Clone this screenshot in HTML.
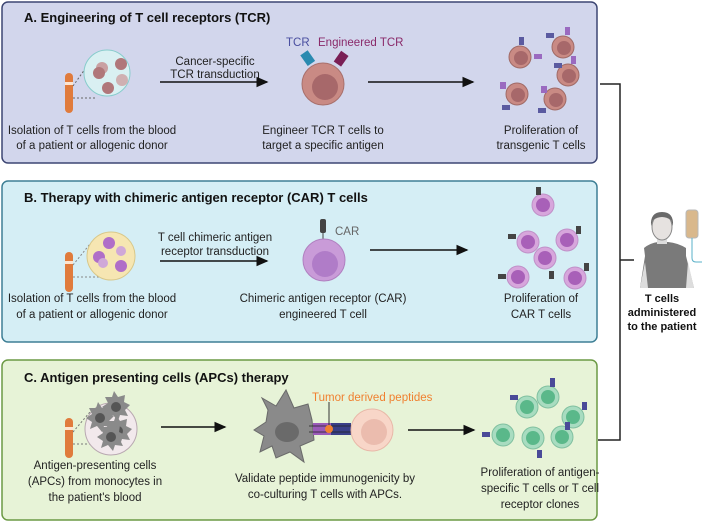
<!DOCTYPE html>
<html><head><style>
html,body{margin:0;padding:0;background:#fff;}
svg{display:block;font-family:"Liberation Sans",sans-serif;}
.t{font-weight:bold;font-size:13px;fill:#111;}
.c{font-size:11.5px;fill:#222;text-anchor:middle;}
</style></head><body>
<svg width="708" height="523" viewBox="0 0 708 523">
<defs>
<g id="tube"><rect x="-4" y="0" width="8" height="40" rx="4" fill="#e07b3c"/><rect x="-4" y="9" width="8" height="3" fill="#fde4cf"/></g>
<marker id="ar" markerWidth="8" markerHeight="8" refX="7" refY="4" orient="auto"><path d="M0,0.5 L8,4 L0,7.5z" fill="#111"/></marker>
<g id="apc"><path d="M-4,-10 L-2,-16 L2,-10 L9,-12 L8,-5 L14,-2 L9,3 L12,9 L4,8 L2,14 L-3,8 L-10,11 L-8,4 L-14,0 L-8,-4 L-11,-10z" fill="#8a8a8a"/><circle r="5" fill="#555"/></g>
</defs>
<!-- Panel A -->
<rect x="2" y="2" width="595" height="161" rx="6" fill="#d2d6ec" stroke="#3d4673" stroke-width="1.5"/>
<text class="t" x="24" y="22">A. Engineering of T cell receptors (TCR)</text>
<use href="#tube" x="69" y="73"/>
<line x1="73" y1="86" x2="90" y2="62" stroke="#666" stroke-dasharray="2,2"/><line x1="73" y1="98" x2="96" y2="98" stroke="#666" stroke-dasharray="2,2"/>
<circle cx="107" cy="73" r="23" fill="#d9f0f2" stroke="#8cc"/>
<circle cx="102" cy="68" r="6" fill="#c9a0a2"/><circle cx="99" cy="73" r="6" fill="#b0777a"/><circle cx="121" cy="64" r="6" fill="#b0777a"/><circle cx="122" cy="80" r="6" fill="#cfb0b2"/><circle cx="108" cy="88" r="6" fill="#b0777a"/>
<text class="c" x="92" y="134">Isolation of T cells from the blood</text>
<text class="c" x="92" y="149">of a patient or allogenic donor</text>
<line x1="160" y1="82" x2="267" y2="82" stroke="#111" stroke-width="1.5" marker-end="url(#ar)"/>
<text class="c" x="215" y="65">Cancer-specific</text><text class="c" x="215" y="78">TCR transduction</text>
<text x="286" y="46" font-size="11.5" fill="#4a4fa0">TCR</text><text x="318" y="46" font-size="11.5" fill="#8a2a6a">Engineered TCR</text>
<rect x="303" y="52" width="9" height="13" fill="#2a8ab0" transform="rotate(-35 307 58)"/><rect x="337" y="52" width="9" height="13" fill="#7a1f55" transform="rotate(35 341 58)"/>
<circle cx="323" cy="84" r="21" fill="#c98a84" stroke="#a8706c"/><circle cx="325" cy="87" r="13" fill="#a7686a"/>
<text class="c" x="323" y="134">Engineer TCR T cells to</text><text class="c" x="323" y="149">target a specific antigen</text>
<line x1="368" y1="82" x2="473" y2="82" stroke="#111" stroke-width="1.5" marker-end="url(#ar)"/>
<g fill="#c98a84" stroke="#a06a66"><circle cx="520" cy="57" r="11"/><circle cx="563" cy="47" r="11"/><circle cx="568" cy="75" r="11"/><circle cx="517" cy="94" r="11"/><circle cx="555" cy="99" r="11"/></g>
<g fill="#a7686a"><circle cx="521" cy="58" r="7"/><circle cx="564" cy="48" r="7"/><circle cx="569" cy="76" r="7"/><circle cx="518" cy="95" r="7"/><circle cx="556" cy="100" r="7"/></g>
<g fill="#5a5aa0"><rect x="519" y="37" width="5" height="8"/><rect x="546" y="33" width="8" height="5"/><rect x="554" y="63" width="8" height="5"/><rect x="502" y="105" width="8" height="5"/><rect x="538" y="108" width="8" height="5"/></g>
<g fill="#9a6ac0"><rect x="534" y="54" width="8" height="5"/><rect x="565" y="27" width="5" height="8"/><rect x="571" y="56" width="5" height="8"/><rect x="500" y="82" width="6" height="7"/><rect x="541" y="86" width="6" height="7"/></g>
<text class="c" x="541" y="134">Proliferation of</text><text class="c" x="541" y="149">transgenic T cells</text>
<!-- Panel B -->
<rect x="2" y="181" width="595" height="161" rx="6" fill="#d5eef5" stroke="#3e7f95" stroke-width="1.5"/>
<text class="t" x="24" y="202">B. Therapy with chimeric antigen receptor (CAR) T cells</text>
<use href="#tube" x="69" y="252"/>
<line x1="73" y1="265" x2="90" y2="244" stroke="#888" stroke-dasharray="2,2"/><line x1="73" y1="277" x2="100" y2="277" stroke="#888" stroke-dasharray="2,2"/>
<circle cx="111" cy="256" r="24" fill="#f6e6b2" stroke="#d8c88a"/>
<circle cx="109" cy="243" r="6" fill="#b06ec8"/><circle cx="99" cy="257" r="6" fill="#b06ec8"/><circle cx="103" cy="263" r="5" fill="#d0a8d8"/><circle cx="121" cy="251" r="5" fill="#d0a8d8"/><circle cx="121" cy="266" r="6" fill="#b06ec8"/>
<text class="c" x="92" y="302">Isolation of T cells from the blood</text><text class="c" x="92" y="318">of a patient or allogenic donor</text>
<line x1="160" y1="261" x2="267" y2="261" stroke="#111" stroke-width="1.5" marker-end="url(#ar)"/>
<text class="c" x="215" y="241">T cell chimeric antigen</text><text class="c" x="215" y="255">receptor transduction</text>
<rect x="320" y="219" width="6" height="14" rx="2" fill="#444"/><line x1="323" y1="233" x2="323" y2="242" stroke="#444"/><text x="335" y="235" font-size="11.5" fill="#666">CAR</text>
<circle cx="324" cy="260" r="21" fill="#c99bd8" stroke="#b080c0"/><circle cx="325" cy="264" r="13" fill="#b07cc8"/>
<text class="c" x="323" y="302">Chimeric antigen receptor (CAR)</text><text class="c" x="323" y="318">engineered T cell</text>
<line x1="370" y1="250" x2="467" y2="250" stroke="#111" stroke-width="1.5" marker-end="url(#ar)"/>
<g fill="#d7a6dc" stroke="#c090c8"><circle cx="543" cy="205" r="11"/><circle cx="528" cy="242" r="11"/><circle cx="567" cy="240" r="11"/><circle cx="545" cy="258" r="11"/><circle cx="518" cy="277" r="11"/><circle cx="575" cy="278" r="11"/></g>
<g fill="#a860b8"><circle cx="543" cy="205" r="7"/><circle cx="528" cy="242" r="7"/><circle cx="567" cy="240" r="7"/><circle cx="545" cy="258" r="7"/><circle cx="518" cy="277" r="7"/><circle cx="575" cy="278" r="7"/></g>
<g fill="#444"><rect x="536" y="187" width="5" height="8"/><rect x="508" y="234" width="8" height="5"/><rect x="576" y="226" width="5" height="8"/><rect x="549" y="271" width="5" height="8"/><rect x="498" y="274" width="8" height="5"/><rect x="584" y="263" width="5" height="8"/></g>
<text class="c" x="541" y="302">Proliferation of</text><text class="c" x="541" y="318">CAR T cells</text>
<!-- Panel C -->
<rect x="2" y="360" width="595" height="160" rx="6" fill="#e7f3d7" stroke="#6c9a45" stroke-width="1.5"/>
<text class="t" x="24" y="382">C. Antigen presenting cells (APCs) therapy</text>
<use href="#tube" x="69" y="418"/>
<line x1="73" y1="432" x2="90" y2="412" stroke="#777" stroke-dasharray="2,2"/><line x1="73" y1="444" x2="102" y2="444" stroke="#777" stroke-dasharray="2,2"/>
<circle cx="111" cy="429" r="26" fill="#f2e9ec" stroke="#b8a8b0"/>
<use href="#apc" x="100" y="418"/><use href="#apc" x="116" y="407" transform="scale(1)"/><use href="#apc" x="118" y="431"/><use href="#apc" x="111" y="437"/>
<text class="c" x="95" y="469">Antigen-presenting cells</text><text class="c" x="95" y="485">(APCs) from monocytes in</text><text class="c" x="95" y="501">the patient's blood</text>
<line x1="161" y1="427" x2="225" y2="427" stroke="#111" stroke-width="1.5" marker-end="url(#ar)"/>
<path d="M268,410 L262,398 L276,406 L286,390 L294,408 L308,404 L312,420 L314,440 L300,446 L304,462 L290,452 L276,458 L272,446 L260,452 L264,436 L254,430 L266,422z" fill="#8a8a8a" stroke="#6a6a6a"/>
<ellipse cx="287" cy="432" rx="12" ry="10" fill="#6a6a6a"/>
<rect x="313" y="423" width="18" height="12" fill="#9a5ab8"/><rect x="331" y="423" width="20" height="12" fill="#3a3f88"/>
<line x1="309" y1="426" x2="355" y2="426" stroke="#222" stroke-width="0.8"/><line x1="309" y1="432" x2="355" y2="432" stroke="#222" stroke-width="0.8"/>
<circle cx="329" cy="429" r="4" fill="#f08030"/><line x1="329" y1="402" x2="329" y2="425" stroke="#333"/>
<text x="312" y="401" font-size="11.5" fill="#f08030">Tumor derived peptides</text>
<circle cx="372" cy="430" r="21" fill="#f8d6c8" stroke="#e8b8a8"/><circle cx="374" cy="432" r="13" fill="#ebbcae"/>
<text class="c" x="325" y="482">Validate peptide immunogenicity by</text><text class="c" x="325" y="498">co-culturing T cells with APCs.</text>
<line x1="408" y1="430" x2="474" y2="430" stroke="#111" stroke-width="1.5" marker-end="url(#ar)"/>
<g fill="#a8dcc0" stroke="#80c0a0"><circle cx="548" cy="397" r="11"/><circle cx="527" cy="407" r="11"/><circle cx="573" cy="417" r="11"/><circle cx="503" cy="435" r="11"/><circle cx="533" cy="438" r="11"/><circle cx="562" cy="437" r="11"/></g>
<g fill="#5ab88a"><circle cx="548" cy="397" r="7"/><circle cx="527" cy="407" r="7"/><circle cx="573" cy="417" r="7"/><circle cx="503" cy="435" r="7"/><circle cx="533" cy="438" r="7"/><circle cx="562" cy="437" r="7"/></g>
<g fill="#4a4a98"><rect x="550" y="378" width="5" height="9"/><rect x="510" y="395" width="8" height="5"/><rect x="582" y="402" width="5" height="8"/><rect x="482" y="432" width="8" height="5"/><rect x="537" y="450" width="5" height="8"/><rect x="565" y="422" width="5" height="8"/></g>
<text class="c" x="540" y="476">Proliferation of antigen-</text><text class="c" x="540" y="492">specific T cells or T cell</text><text class="c" x="540" y="508">receptor clones</text>
<!-- bracket -->
<path d="M600,84 H620 V440 H598" fill="none" stroke="#222" stroke-width="1.5"/>
<line x1="620" y1="260" x2="634" y2="260" stroke="#222" stroke-width="1.5"/>
<!-- patient -->
<path d="M640,288 L645,256 L644,248 Q650,243 658,242 L668,242 Q678,243 686,248 L686,256 L694,288z" fill="#7a7a7a"/>
<path d="M640,288 L645,262 L648,288z M694,288 L688,262 L686,288z" fill="#ddd"/>
<rect x="657" y="236" width="10" height="8" fill="#ddd"/>
<ellipse cx="662" cy="227" rx="10" ry="13" fill="#e6e2e0" stroke="#888"/>
<path d="M651,226 Q650,212 662,212 Q674,212 673,226 L671,220 Q662,214 653,220z" fill="#6a6a6a"/>
<rect x="686" y="210" width="12" height="28" rx="3" fill="#d9b88c" stroke="#b8b8b8"/>
<path d="M692,238 V258 Q692,262 696,262 h6" fill="none" stroke="#5ab0c8"/>
<text x="662" y="302" font-size="11" font-weight="bold" text-anchor="middle" fill="#111">T cells</text>
<text x="662" y="316" font-size="11" font-weight="bold" text-anchor="middle" fill="#111">administered</text>
<text x="662" y="330" font-size="11" font-weight="bold" text-anchor="middle" fill="#111">to the patient</text>
</svg>
</body></html>
